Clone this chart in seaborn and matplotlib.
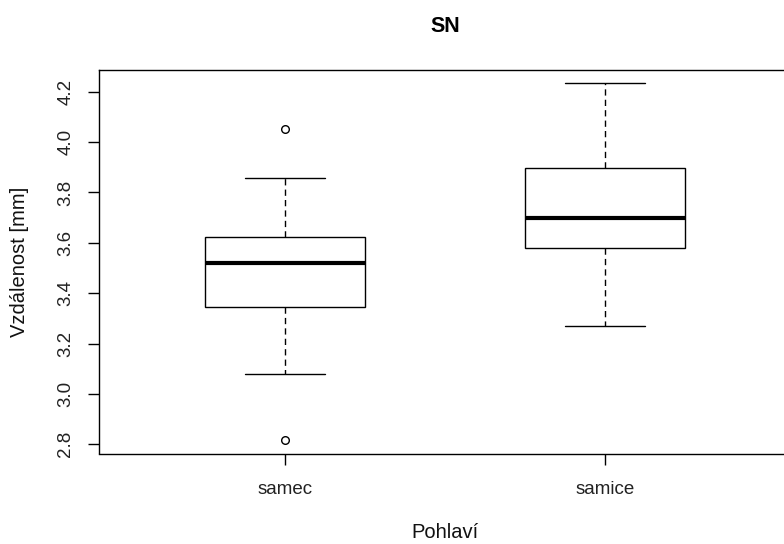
import numpy as np
import pandas as pd
import matplotlib
matplotlib.use("Agg")
import matplotlib.pyplot as plt
import seaborn as sns

# ---- data ----
categories = ["samec", "samice"]
samec_values = [2.817, 3.079, 3.344, 3.40, 3.519, 3.58, 3.624, 3.859, 4.053]
samice_values = [3.270, 3.581, 3.700, 3.898, 4.233]
ytick_values = [2.8, 3.0, 3.2, 3.4, 3.6, 3.8, 4.0, 4.2]
ytick_labels = ["2.8", "3.0", "3.2", "3.4", "3.6", "3.8", "4.0", "4.2"]
title_text = "SN"
xlabel_text = "Pohlaví"
ylabel_text = "Vzdálenost [mm]"

sns.set_theme(style="white")
plt.rcParams["font.family"] = ["Liberation Sans", "DejaVu Sans"]

df = pd.DataFrame({
    "Pohlaví": ["samec"] * len(samec_values) + ["samice"] * len(samice_values),
    "value": samec_values + samice_values,
})

fig = plt.figure(figsize=(7.84, 5.44), dpi=100)
ax = fig.add_axes([99.4 / 784, 1 - 453.5 / 544, 691.2 / 784, 383.5 / 544])

sns.boxplot(
    data=df, x="Pohlaví", y="value", order=categories, ax=ax,
    width=0.5, color="white", linecolor="black", linewidth=1.0,
    fliersize=5.5,
    whiskerprops=dict(linestyle=(0, (4.5, 3))),
    medianprops=dict(linewidth=3.0, color="black"),
    flierprops=dict(marker="o", markerfacecolor="none",
                    markeredgecolor="black", markeredgewidth=1.0),
    capprops=dict(linestyle="-"),
)

ax.set_xlim(-0.58, 1.58)
ax.set_ylim(2.7636, 4.2864)
ax.set_yticks(ytick_values)
ax.set_yticklabels(ytick_labels, rotation=90, va="center")

for s in ax.spines.values():
    s.set_color("black")
    s.set_linewidth(1.0)

ax.tick_params(axis="both", which="both", left=True, bottom=True,
               length=8, width=1.0, color="black", labelsize=13.5,
               labelcolor="#222222")
ax.tick_params(axis="y", pad=10)
ax.tick_params(axis="x", pad=12)

ax.set_xlabel(xlabel_text, fontsize=14.5, color="#111111")
ax.set_ylabel(ylabel_text, fontsize=14.5, color="#111111")
ax.xaxis.set_label_coords(0.5, -0.182)
ax.yaxis.set_label_coords(-0.1019, 0.5)

fig.text(445 / 784, 1 - 31.7 / 544, title_text, ha="center", va="baseline",
         fontsize=15.5, fontweight="bold", color="black")

fig.savefig("out.png", dpi=100, facecolor="white")
